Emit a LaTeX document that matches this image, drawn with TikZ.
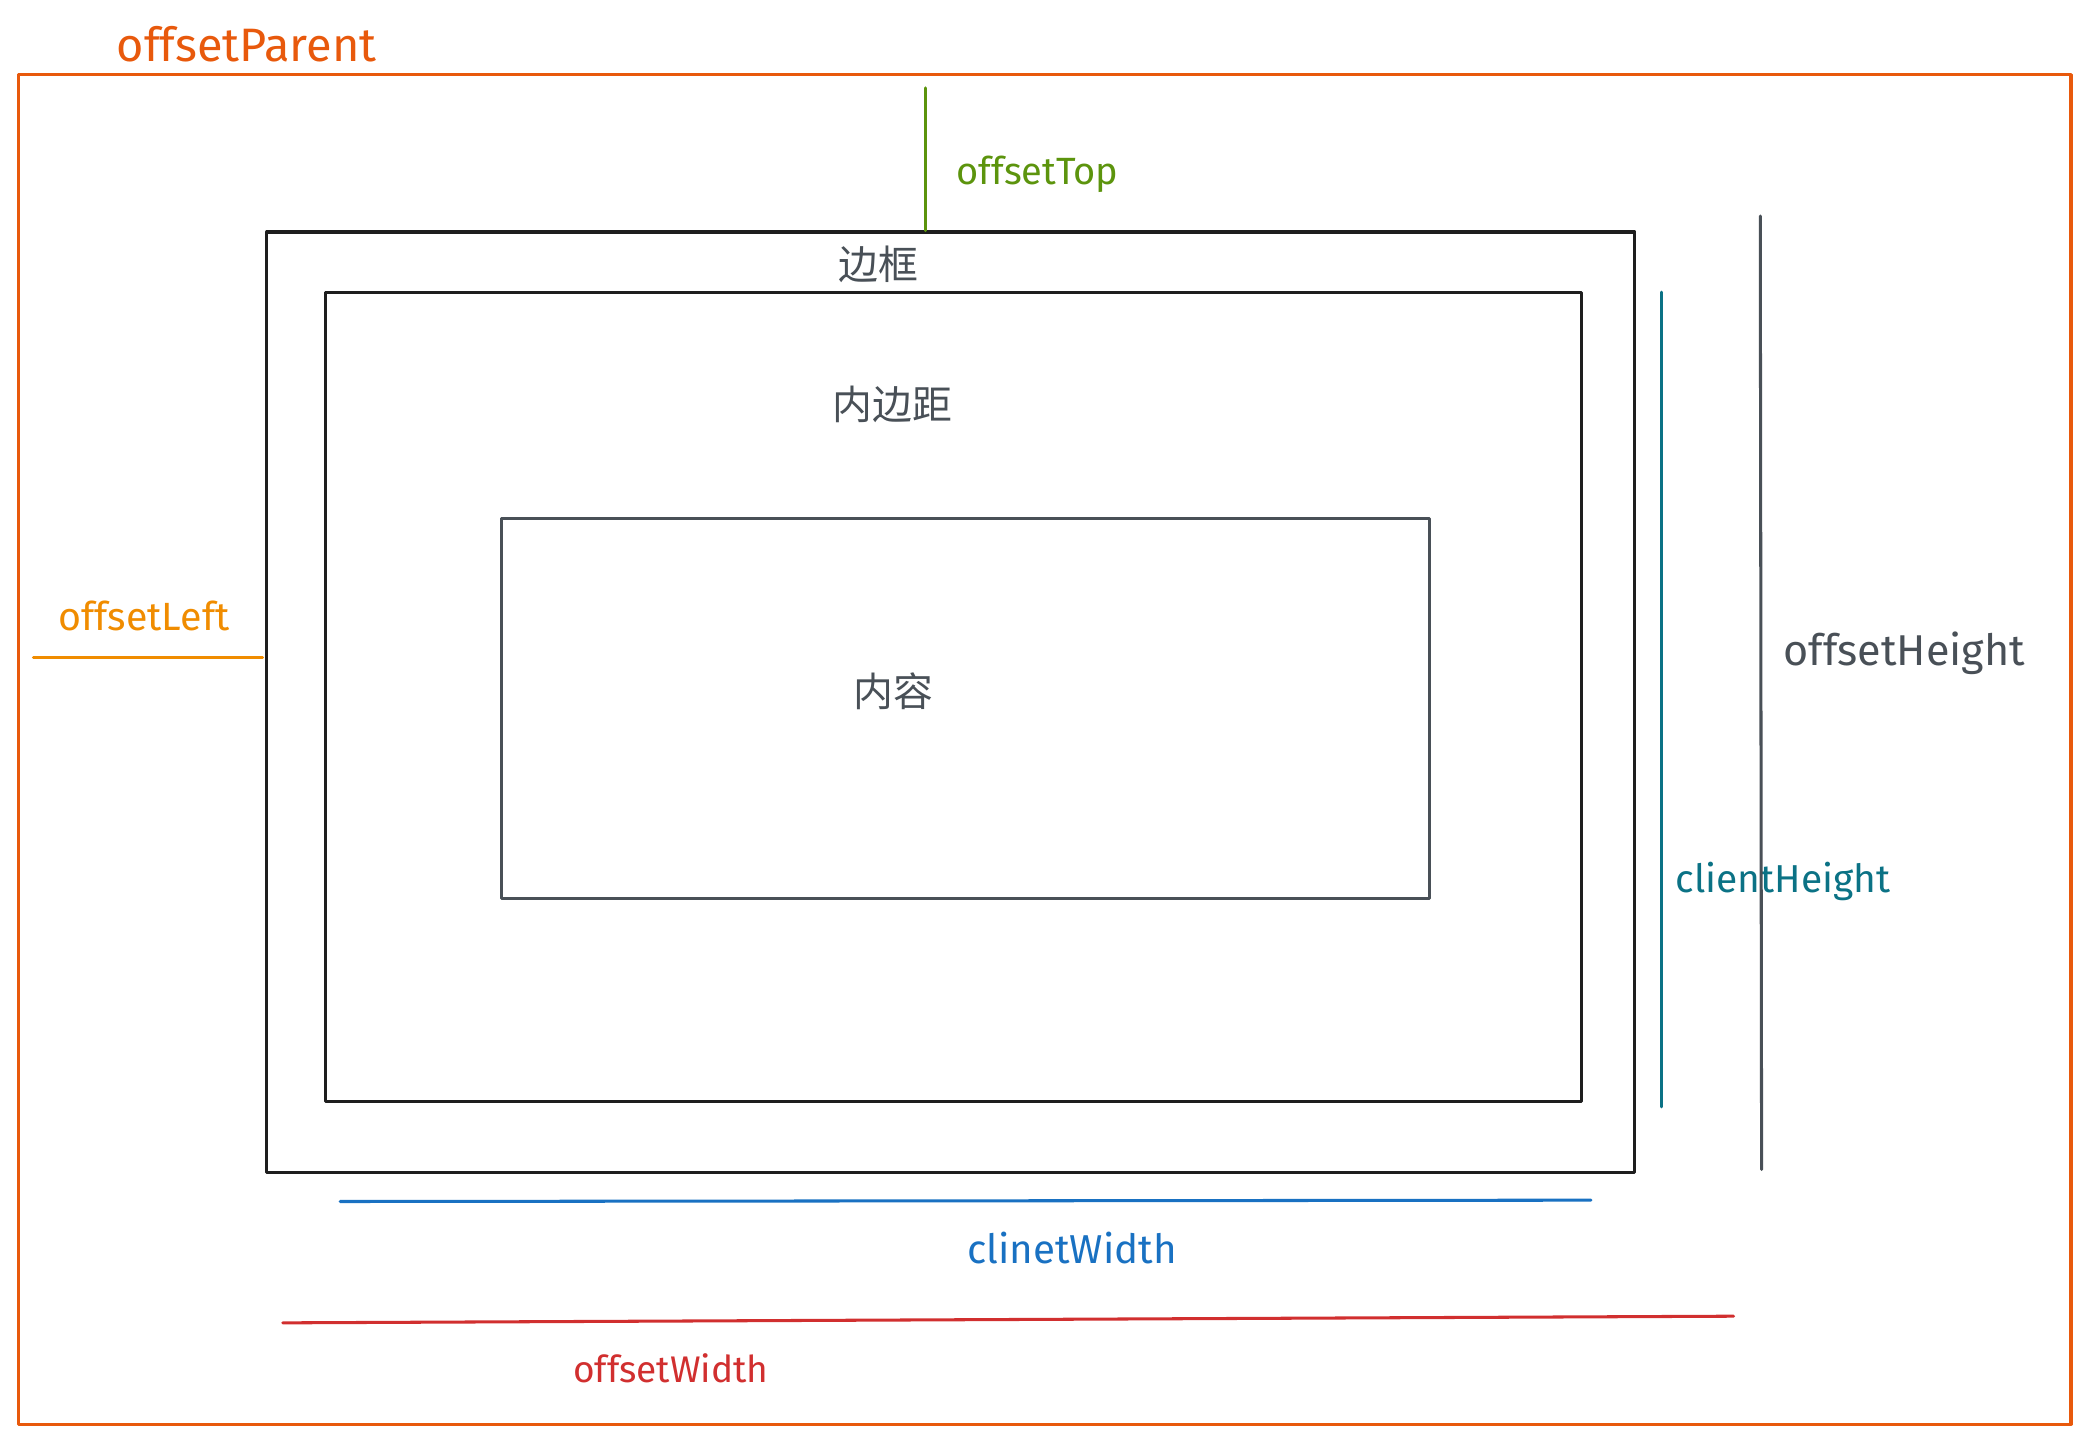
\documentclass[tikz,border=0pt]{standalone}
\usepackage{fontspec}
\setmainfont{Fira Sans}
\newfontfamily\cjk{Noto Sans CJK SC}
\definecolor{cparent}{HTML}{E8590C}
\definecolor{ctop}{HTML}{5C940D}
\definecolor{cleft}{HTML}{F08C00}
\definecolor{cch}{HTML}{0B7285}
\definecolor{coh}{HTML}{495057}
\definecolor{ccw}{HTML}{1971C2}
\definecolor{cow}{HTML}{D12F2F}
\definecolor{cbox}{HTML}{1E1E1E}
\newcommand{\fsz}[1]{\fontsize{#1}{#1}\selectfont}
\begin{document}
\begin{tikzpicture}[x=0.01cm,y=-0.01cm,
  lbl/.style={inner sep=0pt},
  zh/.style={inner sep=0pt,text=coh,font=\cjk\fontsize{8.5}{10}\selectfont},
  sk/.style={line width=0.65pt,line cap=round,line join=round}]
\useasboundingbox (0,0) rectangle (1568,1080);
% outer offsetParent
\draw[sk,cparent] (14,56) rectangle (1553,1068);
\node[lbl,text=cparent,font=\fsz{10}] (tparent) at (185,33) {offsetParent};
% border box
\draw[sk,cbox] (200,174) rectangle (1226,879);
\node[zh] (tborder) at (659,198) {边框};
% padding box
\draw[sk,cbox] (244,219) rectangle (1186,826);
\node[zh] (tpad) at (669,303) {内边距};
% content box
\draw[sk,coh] (376,389) rectangle (1072,674);
\node[zh] (tcontent) at (670,518) {内容};
% offsetTop
\coordinate (topA) at (694,66);
\coordinate (topB) at (694,173);
\draw[sk,ctop] (topA) -- (topB);
\node[lbl,text=ctop,font=\fsz{8.1}] (ttop) at (778,131) {offsetTop};
% offsetLeft
\coordinate (leftA) at (25,493);
\coordinate (leftB) at (197,493);
\draw[sk,cleft] (leftA) -- (leftB);
\node[lbl,text=cleft,font=\fsz{8.4}] (tleft) at (108,462) {offsetLeft};
% clientHeight
\coordinate (chA) at (1246,219);
\coordinate (chB) at (1246,830);
\draw[sk,cch] (chA) -- (chB);
\node[lbl,text=cch,font=\fsz{8.3}] (tch) at (1337,661) {clientHeight};
% offsetHeight
\coordinate (ohA) at (1320,162);
\coordinate (ohB) at (1321,877);
\draw[sk,coh] (ohA) -- (ohB);
\node[lbl,text=coh,font=\fsz{9.2}] (toh) at (1428,490) {offsetHeight};
% clinetWidth
\coordinate (cwA) at (255,901);
\coordinate (cwB) at (1193,900);
\draw[sk,ccw] (cwA) -- (cwB);
\node[lbl,text=ccw,font=\fsz{8.6}] (tcw) at (804,936) {clinetWidth};
% offsetWidth
\coordinate (owA) at (212,992);
\coordinate (owB) at (1300,987);
\draw[sk,cow] (owA) -- (owB);
\node[lbl,text=cow,font=\fsz{7.9}] (tow) at (503,1026) {offsetWidth};
\end{tikzpicture}
\end{document}
